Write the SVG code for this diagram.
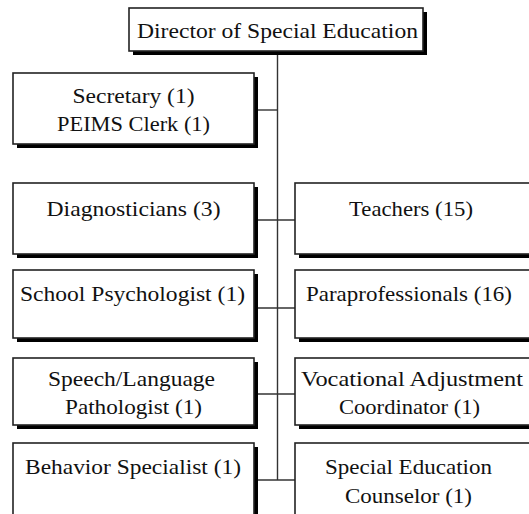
<svg xmlns="http://www.w3.org/2000/svg" width="529" height="514" viewBox="0 0 529 514">
<style>
.sh{fill:#000}
.bx{fill:#fff;stroke:#222;stroke-width:1.6}
text{font-family:'Times New Roman','Liberation Serif','DejaVu Serif',serif;font-size:22px;fill:#111;text-anchor:middle}
.c{stroke:#333;stroke-width:1.4;fill:none}
</style>
<rect width="529" height="514" fill="#fff"/>
<g id="connectors">
<line class="c" x1="277.5" y1="50" x2="277.5" y2="480"/>
<line class="c" x1="254" y1="110" x2="277.5" y2="110"/>
<line class="c" x1="254" y1="220" x2="295" y2="220"/>
<line class="c" x1="254" y1="308" x2="295" y2="308"/>
<line class="c" x1="254" y1="394" x2="295" y2="394"/>
<line class="c" x1="254" y1="480" x2="295" y2="480"/>
</g>
<g id="director">
<rect class="sh" x="133" y="12" width="294" height="43"/>
<rect class="bx" x="129" y="8" width="294" height="43"/>
<text x="277.5" y="38" textLength="281" lengthAdjust="spacingAndGlyphs">Director of Special Education</text>
</g>
<g id="secretary">
<rect class="sh" x="17" y="77" width="241" height="71"/>
<rect class="bx" x="13" y="73" width="241" height="71"/>
<text x="133.5" y="103" textLength="122" lengthAdjust="spacingAndGlyphs">Secretary (1)</text>
<text x="133.5" y="131" textLength="153" lengthAdjust="spacingAndGlyphs">PEIMS Clerk (1)</text>
</g>
<g id="diagnosticians">
<rect class="sh" x="17" y="187" width="241" height="71"/>
<rect class="bx" x="13" y="183" width="241" height="71"/>
<text x="133.5" y="216" textLength="174" lengthAdjust="spacingAndGlyphs">Diagnosticians (3)</text>
</g>
<g id="teachers">
<rect class="sh" x="299" y="187" width="242" height="71"/>
<rect class="bx" x="295" y="183" width="242" height="71"/>
<text x="411" y="216" textLength="124" lengthAdjust="spacingAndGlyphs">Teachers (15)</text>
</g>
<g id="psychologist">
<rect class="sh" x="17" y="274" width="241" height="68"/>
<rect class="bx" x="13" y="270" width="241" height="68"/>
<text x="132.5" y="301" textLength="225" lengthAdjust="spacingAndGlyphs">School Psychologist (1)</text>
</g>
<g id="paraprofessionals">
<rect class="sh" x="299" y="274" width="242" height="68"/>
<rect class="bx" x="295" y="270" width="242" height="68"/>
<text x="409" y="301" textLength="206" lengthAdjust="spacingAndGlyphs">Paraprofessionals (16)</text>
</g>
<g id="speech">
<rect class="sh" x="17" y="362" width="241" height="67"/>
<rect class="bx" x="13" y="358" width="241" height="67"/>
<text x="131.5" y="386" textLength="167" lengthAdjust="spacingAndGlyphs">Speech/Language</text>
<text x="133.5" y="414" textLength="137" lengthAdjust="spacingAndGlyphs">Pathologist (1)</text>
</g>
<g id="vocational">
<rect class="sh" x="299" y="362" width="242" height="67"/>
<rect class="bx" x="295" y="358" width="242" height="67"/>
<text x="412" y="386" textLength="222" lengthAdjust="spacingAndGlyphs">Vocational Adjustment</text>
<text x="409.5" y="414" textLength="141" lengthAdjust="spacingAndGlyphs">Coordinator (1)</text>
</g>
<g id="behavior">
<rect class="sh" x="17" y="447" width="241" height="90"/>
<rect class="bx" x="13" y="443" width="241" height="90"/>
<text x="133" y="474" textLength="216" lengthAdjust="spacingAndGlyphs">Behavior Specialist (1)</text>
</g>
<g id="counselor">
<rect class="sh" x="299" y="447" width="242" height="90"/>
<rect class="bx" x="295" y="443" width="242" height="90"/>
<text x="408.5" y="474" textLength="167" lengthAdjust="spacingAndGlyphs">Special Education</text>
<text x="408.5" y="503" textLength="127" lengthAdjust="spacingAndGlyphs">Counselor (1)</text>
</g>
</svg>
